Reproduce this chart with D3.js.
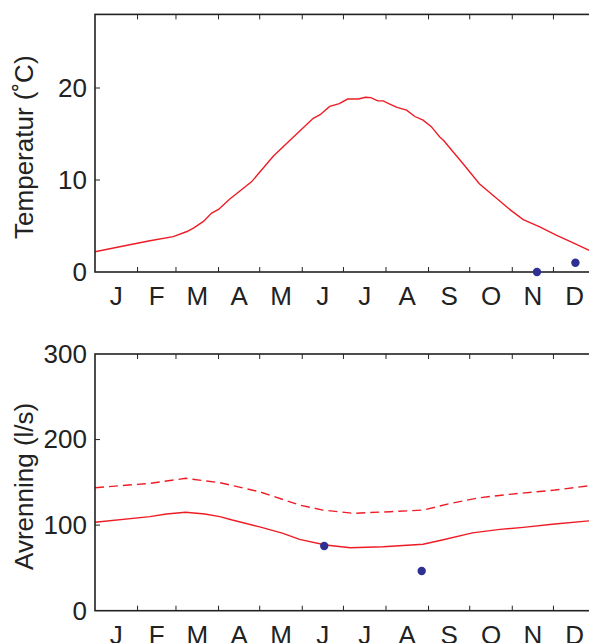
<!DOCTYPE html>
<html>
<head>
<meta charset="utf-8">
<script src="https://cdn.jsdelivr.net/npm/d3@7/dist/d3.min.js"></script>
<style>
  html, body { margin: 0; padding: 0; background: #fff; }
  svg { display: block; }
  text { font-family: "Liberation Sans", Arial, Helvetica, sans-serif; fill: #222; }
</style>
</head>
<body>
<script>
// ---------- data ----------
const monthLabels = ["J","F","M","A","M","J","J","A","S","O","N","D"];
const monthStarts = [0,31,59,90,120,151,181,212,243,273,304,334,365];

const tempDays = [0,18,40,57,67,72,79,85,90,98,114,130,149,159,164,171,178,184,192,197,201,206,210,214,220,227,233,239,245,251,254,268,280,291,303,312,324,336,348,360,365];
const tempMean = [2.2,2.75,3.4,3.85,4.4,4.8,5.5,6.4,6.8,7.9,9.8,12.6,15.3,16.7,17.1,18.0,18.3,18.8,18.8,19.0,18.95,18.6,18.6,18.3,17.9,17.6,16.9,16.5,15.8,14.7,14.3,11.8,9.6,8.2,6.7,5.7,4.9,4.0,3.2,2.35,2.2];
const tempObsDays = [322,350];
const tempObs = [0.0,1.0];

const flowDays = [0,40,52,66,80,91,100,120,137,149,168,186,210,239,253,275,295,312,335,360,365];
const flowMean = [103.3,110,113,115,113,110,106,98,90.4,83.4,76.8,73.6,74.8,77.6,82.6,91,95,97.4,101.3,105,105.6];
const flowHighDays = [0,40,66,91,120,149,166,188,215,239,259,280,302,335,360,365];
const flowHigh = [143.7,148.8,154.7,149.6,139,123.5,117.6,113.8,115.7,117.6,125.4,132,136,141,146,146.6];
const flowObsDays = [167,238];
const flowObs = [75.6,46.4];

const tempTicks = [0,10,20];
const flowTicks = [0,100,200,300];

// ---------- drawing ----------
const W = 589, H = 643;
const red = "#ee1c25", blue = "#2e3192", ink = "#222";
const FS = 26;
const svg = d3.select("body").append("svg").attr("width", W).attr("height", H);
svg.append("rect").attr("width", W).attr("height", H).attr("fill", "#fff");

const x = d3.scaleLinear().domain([0,365]).range([95,596]);

function panel(opts) {
  const y = d3.scaleLinear().domain(opts.ydomain).range([opts.bottom, opts.top]);
  const g = svg.append("g");
  const clipId = "clip" + opts.id;
  svg.append("clipPath").attr("id", clipId).append("rect")
    .attr("x", x(0)).attr("y", y(opts.ydomain[1])).attr("width", x(365)-x(0)).attr("height", y(opts.ydomain[0]) - y(opts.ydomain[1]));

  const lineGen = d3.line().x(d => x(d[0])).y(d => y(d[1]));
  opts.lines.forEach(l => {
    g.append("path")
      .attr("d", lineGen(d3.zip(l.days, l.vals)))
      .attr("fill", "none").attr("stroke", red).attr("stroke-width", 1.4)
      .attr("stroke-dasharray", l.dash || null)
      .attr("clip-path", `url(#${clipId})`);
  });

  // frame
  g.append("rect")
    .attr("x", x(0)).attr("y", y(opts.ydomain[1]))
    .attr("width", x(365)-x(0)).attr("height", y(opts.ydomain[0]) - y(opts.ydomain[1]))
    .attr("fill", "none").attr("stroke", ink).attr("stroke-width", 1.6);

  // x ticks (inward, bottom & top)
  const mt = monthStarts.slice(1, -1);
  g.selectAll(".xtb").data(mt).enter().append("line")
    .attr("x1", d => x(d)).attr("x2", d => x(d))
    .attr("y1", opts.bottom).attr("y2", opts.bottom - 5)
    .attr("stroke", ink).attr("stroke-width", 1);
  g.selectAll(".xtt").data(mt).enter().append("line")
    .attr("x1", d => x(d)).attr("x2", d => x(d))
    .attr("y1", y(opts.ydomain[1])).attr("y2", y(opts.ydomain[1]) + 5)
    .attr("stroke", ink).attr("stroke-width", 1);

  // month labels
  g.selectAll(".ml").data(monthLabels).enter().append("text")
    .attr("x", (d,i) => x((monthStarts[i] + monthStarts[i+1]) / 2))
    .attr("y", opts.bottom + 33)
    .attr("text-anchor", "middle").attr("font-size", FS)
    .text(d => d);

  // y ticks
  const yAxis = d3.axisLeft(y).tickValues(opts.yticks).tickSize(0).tickPadding(8).tickFormat(d3.format("d"));
  const ya = g.append("g").attr("transform", `translate(${x(0)},0)`).call(yAxis);
  ya.select(".domain").remove();
  ya.selectAll("text").attr("font-size", FS).attr("fill", ink)
    .attr("font-family", "'Liberation Sans', Arial, sans-serif");
  g.selectAll(".ytk").data(opts.yticks.filter(v => v > opts.ydomain[0] && v < opts.ydomain[1])).enter().append("line")
    .attr("x1", x(0)).attr("x2", x(0) + 5)
    .attr("y1", d => y(d)).attr("y2", d => y(d))
    .attr("stroke", ink).attr("stroke-width", 1);

  // y label
  g.append("text")
    .attr("transform", `translate(33,${(opts.top + opts.bottom) / 2 + 4}) rotate(-90)`)
    .attr("text-anchor", "middle").attr("font-size", FS)
    .text(opts.ylabel);

  // observations
  g.selectAll(".obs").data(d3.zip(opts.obsDays, opts.obs)).enter().append("circle")
    .attr("cx", d => x(d[0])).attr("cy", d => y(d[1])).attr("r", 4.2)
    .attr("fill", blue);
}

panel({
  id: "t", top: 14.4, bottom: 272, ydomain: [0,28], yticks: tempTicks,
  ylabel: "Temperatur (\u02DAC)",
  lines: [{days: tempDays, vals: tempMean}],
  obsDays: tempObsDays, obs: tempObs
});

panel({
  id: "q", top: 354, bottom: 610.7, ydomain: [0,300], yticks: flowTicks,
  ylabel: "Avrenning (l/s)",
  lines: [{days: flowDays, vals: flowMean}, {days: flowHighDays, vals: flowHigh, dash: "9,5"}],
  obsDays: flowObsDays, obs: flowObs
});
</script>
</body>
</html>
